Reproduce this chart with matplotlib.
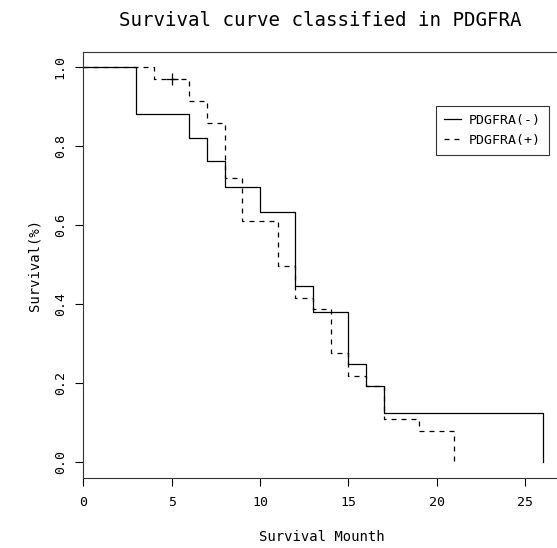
import matplotlib
matplotlib.use("Agg")
import matplotlib.pyplot as plt

# Kaplan-Meier steps
neg_time = [0, 3, 6, 7, 8, 10, 12, 13, 15, 16, 17, 26]
neg_surv = [1.0, 0.882, 0.821, 0.764, 0.698, 0.635, 0.446, 0.380, 0.249, 0.192, 0.125, 0.0]
pos_time = [0, 4, 6, 7, 8, 9, 11, 12, 13, 14, 15, 16, 17, 19, 21]
pos_surv = [1.0, 0.971, 0.916, 0.860, 0.720, 0.610, 0.498, 0.416, 0.388, 0.276, 0.219, 0.192, 0.110, 0.080, 0.0]
pos_censor_time = [5]
pos_censor_surv = [0.971]

x_ticks = [0, 5, 10, 15, 20, 25]
y_ticks = [0.0, 0.2, 0.4, 0.6, 0.8, 1.0]
y_ticklabels = ["0.0", "0.2", "0.4", "0.6", "0.8", "1.0"]

FONT = "DejaVu Sans Mono"
plt.rcParams['font.family'] = [FONT]

fig = plt.figure(figsize=(5.57, 5.48), dpi=100)
ax = fig.add_axes([0.1496, 0.1277, 0.858, 0.778])

ax.step(neg_time, neg_surv, where='post', color='black', lw=0.9, label='PDGFRA(-)')
ax.step(pos_time, pos_surv, where='post', color='black', lw=0.9,
        linestyle=(0, (4, 4)), label='PDGFRA(+)')
ax.plot(pos_censor_time, pos_censor_surv, marker='+', color='black',
        markersize=9, markeredgewidth=0.9, linestyle='none')

ax.set_xlim(0, 27.04)
ax.set_ylim(-0.04, 1.04)
ax.set_xticks(x_ticks)
ax.set_yticks(y_ticks)
ax.set_yticklabels(y_ticklabels, rotation=90, va='center')
ax.tick_params(axis='both', direction='out', length=6, width=0.8, labelsize=9.5)
ax.tick_params(axis='x', pad=7)
ax.tick_params(axis='y', pad=6)
for s in ax.spines.values():
    s.set_linewidth(0.8)
    s.set_color('#333333')

ax.set_xlabel("Survival Mounth", fontsize=10, labelpad=15)
ax.set_ylabel("Survival(%)", fontsize=10, labelpad=9)

fig.text(0.575, 1 - 20 / 548, "Survival curve classified in PDGFRA",
         ha='center', va='center', fontsize=13.8)

leg = ax.legend(loc='upper left', bbox_to_anchor=(0.738, 0.873), fontsize=9.5,
                frameon=True, fancybox=False, handlelength=1.3, handletextpad=0.6,
                borderpad=0.6, labelspacing=0.55, borderaxespad=0)
leg.get_frame().set_edgecolor('black')
leg.get_frame().set_linewidth(0.8)

fig.savefig("out.png", dpi=100)
